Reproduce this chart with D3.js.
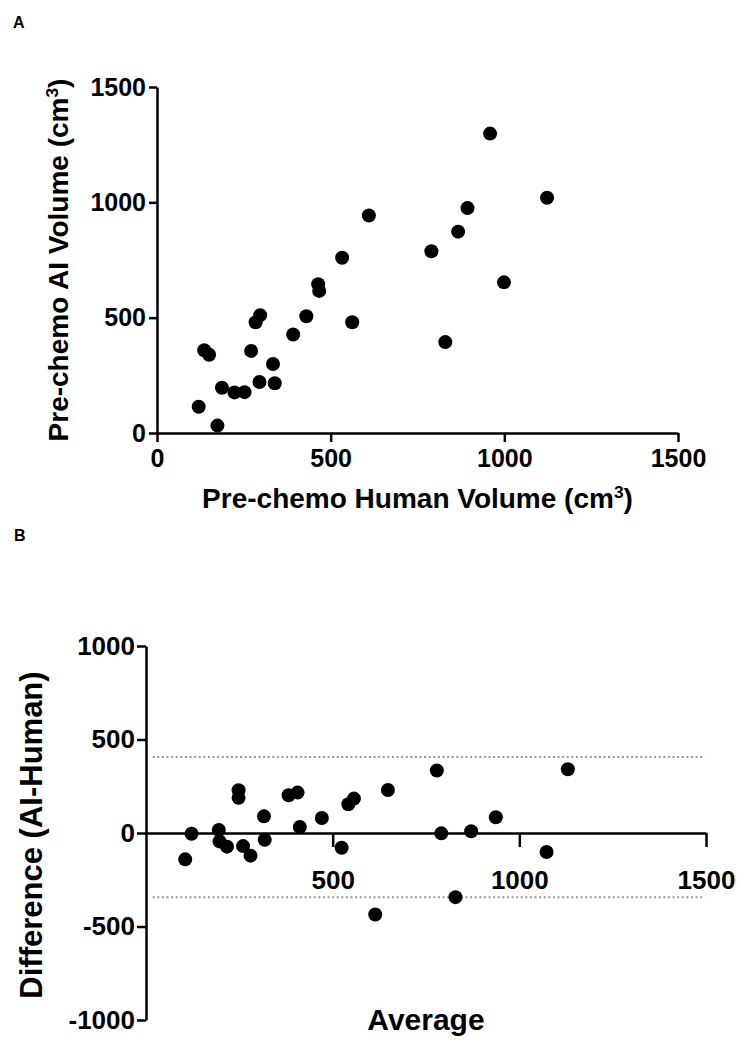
<!DOCTYPE html>
<html>
<head>
<meta charset="utf-8">
<script src="https://cdn.jsdelivr.net/npm/d3@7"></script>
<style>
  body { margin: 0; background: #fff; }
  svg { display: block; }
  text { font-family: "Liberation Sans", Arial, sans-serif; font-weight: bold; fill: #000; }
</style>
</head>
<body>
<div id="chartContainer"></div>
<script>
// Panel A: pre-chemo volumes (cm3)
const humanVol = [174, 120, 187, 223, 252, 136, 150, 295, 339, 271, 334, 284, 297, 392,
                  430, 562, 467, 464, 533, 610, 830, 790, 999, 867, 894, 1123, 959];
const aiVol    = [32, 114, 196, 176, 177, 359, 339, 221, 216, 356, 299, 480, 511, 427,
                  506, 480, 616, 645, 760, 943, 394, 788, 653, 873, 975, 1020, 1298];

// Panel B: Bland-Altman points (average, difference)
const avgVals  = [105, 122, 195, 197, 217, 248, 248, 260, 280, 316, 318, 382, 406, 412,
                  471, 524, 542, 557, 614, 648, 779, 791, 829, 871, 937, 1073, 1130];
const diffVals = [-141, -4, 16, -45, -73, 229, 188, -70, -121, 89, -36, 202, 216, 32,
                  80, -79, 154, 184, -436, 230, 334, -2, -343, 9, 84, -102, 341];

// limits of agreement (dotted lines)
const loaVals = [407, -344];
const loaSpan = [18, 1497];

const ticksA = [0, 500, 1000, 1500];
const ticksBx = [500, 1000, 1500];
const ticksBy = [-1000, -500, 0, 500, 1000];

// plain hyphen for negatives, like the original
const tickFmt = d => String(d);

const svg = d3.select("#chartContainer")
    .append("svg")
    .attr("width", 739)
    .attr("height", 1041);

// panel letters
svg.append("text").attr("x", 13).attr("y", 28).style("font-size", "16px").text("A");
svg.append("text").attr("x", 14).attr("y", 541).style("font-size", "16px").text("B");

function styleAxis(g, size) {
    g.selectAll(".domain").attr("stroke", "#000").attr("stroke-width", 2.5);
    g.selectAll(".tick line").attr("stroke", "#000").attr("stroke-width", 2.5);
    g.selectAll(".tick text")
        .attr("fill", "#000")
        .style("font-size", size + "px")
        .style("font-family", "'Liberation Sans', Arial, sans-serif")
        .style("font-weight", "bold");
}

function addSup(sel, base) {
    sel.append("tspan").text(base);
    sel.append("tspan").attr("baseline-shift", "super").style("font-size", "0.62em").text("3");
    sel.append("tspan").text(")");
}

// ---------- Panel A ----------
const xA = d3.scaleLinear().domain([0, 1500]).range([157, 678]);
const yA = d3.scaleLinear().domain([0, 1500]).range([433, 87]);

const gAy = svg.append("g")
    .attr("transform", `translate(${xA(0)},0)`)
    .call(d3.axisLeft(yA).tickValues(ticksA).tickSize(8).tickSizeOuter(0).tickPadding(3).tickFormat(tickFmt));
styleAxis(gAy, 25);

const gAx = svg.append("g")
    .attr("transform", `translate(0,${yA(0)})`)
    .call(d3.axisBottom(xA).tickValues(ticksA).tickSize(9).tickSizeOuter(0).tickPadding(7).tickFormat(tickFmt));
styleAxis(gAx, 25);

svg.append("g")
    .selectAll("circle")
    .data(humanVol.map((h, i) => [h, aiVol[i]]))
    .join("circle")
    .attr("cx", d => xA(d[0]))
    .attr("cy", d => yA(d[1]))
    .attr("r", 7)
    .attr("fill", "#000");

svg.append("text")
    .attr("x", (xA(0) + xA(1500)) / 2)
    .attr("y", 508)
    .attr("text-anchor", "middle")
    .style("font-size", "28px")
    .call(addSup, "Pre-chemo Human Volume (cm");

svg.append("text")
    .attr("transform", `translate(68,${(yA(0) + yA(1500)) / 2}) rotate(-90)`)
    .attr("text-anchor", "middle")
    .style("font-size", "28px")
    .call(addSup, "Pre-chemo AI Volume (cm");

// ---------- Panel B ----------
const xB = d3.scaleLinear().domain([0, 1500]).range([146, 706]);
const yB = d3.scaleLinear().domain([-1000, 1000]).range([1020, 646]);

const gBy = svg.append("g")
    .attr("transform", `translate(${xB(0)},0)`)
    .call(d3.axisLeft(yB).tickValues(ticksBy).tickSize(9).tickSizeOuter(0).tickPadding(2).tickFormat(tickFmt));
styleAxis(gBy, 26);

const gBx = svg.append("g")
    .attr("transform", `translate(0,${yB(0)})`)
    .call(d3.axisBottom(xB).tickValues(ticksBx).tickSize(14).tickSizeOuter(0).tickPadding(24).tickFormat(tickFmt));
styleAxis(gBx, 26);

svg.append("g")
    .selectAll("line")
    .data(loaVals)
    .join("line")
    .attr("x1", xB(loaSpan[0]))
    .attr("x2", xB(loaSpan[1]))
    .attr("y1", d => yB(d))
    .attr("y2", d => yB(d))
    .attr("stroke", "#999")
    .attr("stroke-width", 2)
    .attr("stroke-dasharray", "2,2.6");

svg.append("g")
    .selectAll("circle")
    .data(avgVals.map((a, i) => [a, diffVals[i]]))
    .join("circle")
    .attr("cx", d => xB(d[0]))
    .attr("cy", d => yB(d[1]))
    .attr("r", 7)
    .attr("fill", "#000");

svg.append("text")
    .attr("x", (xB(0) + xB(1500)) / 2)
    .attr("y", 1030)
    .attr("text-anchor", "middle")
    .style("font-size", "30px")
    .text("Average");

svg.append("text")
    .attr("transform", `translate(42,835) rotate(-90)`)
    .attr("text-anchor", "middle")
    .style("font-size", "31px")
    .text("Difference (AI-Human)");
</script>
</body>
</html>
